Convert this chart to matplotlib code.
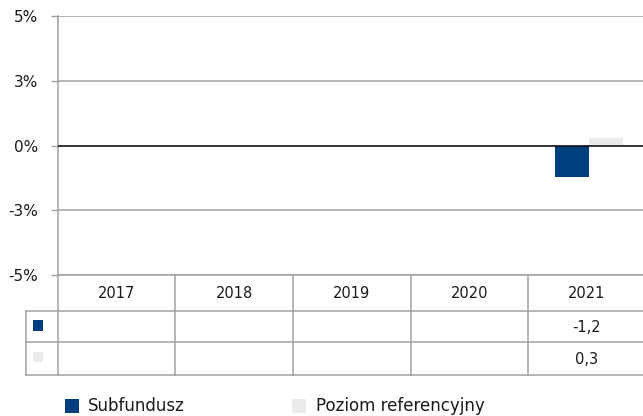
import numpy as np
import matplotlib
matplotlib.use("Agg")
import matplotlib.pyplot as plt
from matplotlib.patches import Rectangle

# --- data -------------------------------------------------------------
years = ["2017", "2018", "2019", "2020", "2021"]
subfundusz = [np.nan, np.nan, np.nan, np.nan, -1.2]
poziom_ref = [np.nan, np.nan, np.nan, np.nan, 0.3]
series_names = ["Subfundusz", "Poziom referencyjny"]
y_ticks = [-5, -2.5, 0, 2.5, 5]
y_tick_labels = ["-5%", "-3%", "0%", "3%", "5%"]

# --- style ------------------------------------------------------------
NAVY = "#003f7f"
LIGHT = "#ebebeb"
GRID = "#a0a0a0"
TEXT = "#1a1a1a"
plt.rcParams["font.family"] = ["DejaVu Sans"]

W, H = 643, 416
fig = plt.figure(figsize=(W / 100, H / 100), dpi=100)


def fig_rect(x0, y0, x1, y1):
    """Axes rect from pixel box (top-left origin)."""
    return [x0 / W, 1 - y1 / H, (x1 - x0) / W, (y1 - y0) / H]


col_w = 117.6
plot_left = 57.7
plot_right = plot_left + col_w * len(years)
plot_top, plot_bottom = 16, 275

ax = fig.add_axes(fig_rect(plot_left, plot_top, plot_right, plot_bottom))
x = np.arange(len(years))
bw = 0.29
ax.bar(x - 0.13, subfundusz, bw, color=NAVY, zorder=3)
ax.bar(x + 0.16, poziom_ref, bw, color=LIGHT, zorder=3)

ax.set_xlim(-0.5, len(years) - 0.5)
ax.set_ylim(y_ticks[0], y_ticks[-1])
ax.set_yticks(y_ticks)
ax.set_yticklabels(y_tick_labels, fontsize=11, color=TEXT)
ax.set_xticks([])
ax.tick_params(axis="y", length=5, width=1, color=GRID, pad=9)
for v in y_ticks:
    if v == 0:
        ax.axhline(v, color="black", lw=1.1, zorder=4)
    else:
        ax.axhline(v, color=GRID, lw=1.1, zorder=1)
for side in ["top", "right", "bottom"]:
    ax.spines[side].set_visible(False)
ax.spines["left"].set_color(GRID)
ax.spines["left"].set_linewidth(1.1)

# --- data table under the plot ---------------------------------------
tab_left = 26
tab_top, row1, row2, tab_bottom = 275, 311, 342, 375
tax = fig.add_axes(fig_rect(tab_left, tab_top, plot_right, tab_bottom))
lead = (plot_left - tab_left) / col_w
tax.set_xlim(-0.5 - lead, len(years) - 0.5)
tax.set_ylim(tab_bottom, tab_top)
tax.axis("off")

lkw = dict(color=GRID, lw=1.1, clip_on=False)
# vertical column boundaries
for i in range(len(years) + 1):
    xb = i - 0.5
    tax.plot([xb, xb], [tab_top, tab_bottom], **lkw)
tax.plot([-0.5 - lead] * 2, [row1, tab_bottom], **lkw)
# horizontal rules
tax.plot([-0.5, len(years) - 0.5], [tab_top, tab_top], **lkw)
for yb in (row1, row2, tab_bottom):
    tax.plot([-0.5 - lead, len(years) - 0.5], [yb, yb], **lkw)

def fmt(v):
    return "" if np.isnan(v) else f"{v:.1f}".replace(".", ",")

for i, yr in enumerate(years):
    tax.text(i, (tab_top + row1) / 2 + 1, yr, ha="center", va="center",
             fontsize=10.5, color=TEXT)
    tax.text(i, (row1 + row2) / 2 + 1, fmt(subfundusz[i]), ha="center",
             va="center", fontsize=10.5, color=TEXT)
    tax.text(i, (row2 + tab_bottom) / 2 + 1, fmt(poziom_ref[i]), ha="center",
             va="center", fontsize=10.5, color=TEXT)

# series keys in the table's first column
for (y0, y1), c in zip([(320, 331), (352, 362)], [NAVY, LIGHT]):
    fig.add_artist(Rectangle((33 / W, 1 - y1 / H), 10 / W, (y1 - y0) / H,
                             transform=fig.transFigure, color=c, lw=0))

# --- legend -----------------------------------------------------------
for (sx, tx), c, name in zip([(65, 88), (292, 316)], [NAVY, LIGHT], series_names):
    fig.add_artist(Rectangle((sx / W, 1 - 413 / H), 14 / W, 14 / H,
                             transform=fig.transFigure, color=c, lw=0))
    fig.text(tx / W, 1 - 406 / H, name, ha="left", va="center",
             fontsize=12, color=TEXT)

fig.savefig("out.png", dpi=100)
